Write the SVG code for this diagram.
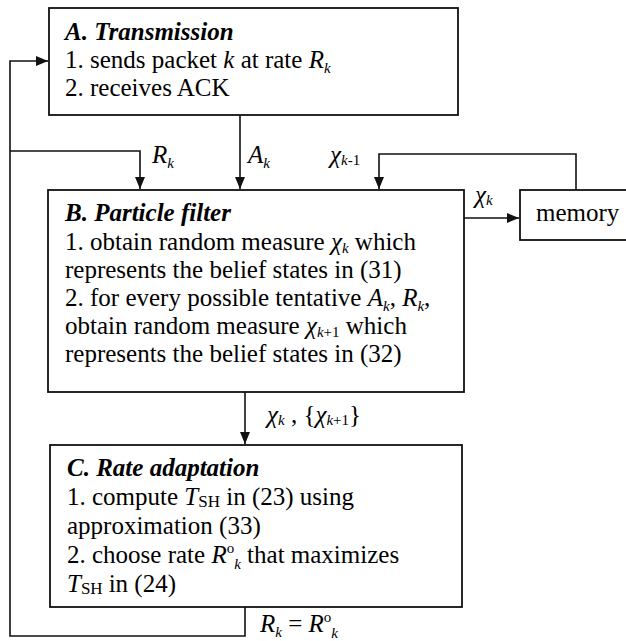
<svg xmlns="http://www.w3.org/2000/svg" width="626" height="641" viewBox="0 0 626 641">
  <style>
    .h { font-weight: bold; font-style: italic; }
    .i { font-style: italic; }
    .s { font-size: 15px; }
    .box { fill: #fff; stroke: #111; stroke-width: 1.8; }
    .wire { fill: none; stroke: #111; stroke-width: 1.6; }
  </style>
  <defs>
    <marker id="arrow" viewBox="0 0 12 10" refX="12" refY="5" markerWidth="12" markerHeight="10" markerUnits="userSpaceOnUse" orient="auto">
      <path d="M0,0 L12,5 L0,10 z" fill="#111"/>
    </marker>
  </defs>

  <g font-family="'Liberation Serif', 'Times New Roman', Times, serif" font-size="25" fill="#000">
  <g id="connectors">
    <!-- rate feedback from adaptation back to transmission -->
    <path class="wire" d="M245,607 V636 H10 V61 H48" marker-end="url(#arrow)"/>
    <path class="wire" d="M10,151 H140 V189" marker-end="url(#arrow)"/>
    <!-- ACK into the filter -->
    <path class="wire" d="M240,115 V189" marker-end="url(#arrow)"/>
    <!-- memory loop -->
    <path class="wire" d="M576,190 V154 H379 V189" marker-end="url(#arrow)"/>
    <path class="wire" d="M464,218 H519" marker-end="url(#arrow)"/>
    <!-- filter output to rate adaptation -->
    <path class="wire" d="M245,392 V444" marker-end="url(#arrow)"/>

    <text x="152" y="163"><tspan class="i">R</tspan><tspan class="s i" dy="5">k</tspan></text>
    <text x="248" y="163"><tspan class="i">A</tspan><tspan class="s i" dy="5">k</tspan></text>
    <text x="330" y="163"><tspan class="i">χ</tspan><tspan class="s" dy="2"><tspan class="i">k</tspan>-1</tspan></text>
    <text x="475" y="203"><tspan class="i">χ</tspan><tspan class="s i" dy="2">k</tspan></text>
    <text x="267" y="423"><tspan class="i">χ</tspan><tspan class="s i" dy="2">k</tspan><tspan dy="-2"> , {</tspan><tspan class="i">χ</tspan><tspan class="s" dy="2"><tspan class="i">k</tspan>+1</tspan><tspan dy="-2">}</tspan></text>
    <text x="260" y="632"><tspan class="i">R</tspan><tspan class="s i" dy="5">k</tspan><tspan dy="-5"> = </tspan><tspan class="i">R</tspan><tspan class="s" dy="-10">o</tspan><tspan class="s i" dy="16">k</tspan></text>
  </g>

  <g id="transmission">
    <rect class="box" x="49" y="8" width="409" height="107"/>
    <text class="h" x="65" y="40">A. Transmission</text>
    <text x="65" y="68">1. sends packet <tspan class="i">k</tspan> at rate <tspan class="i">R</tspan><tspan class="s i" dy="5">k</tspan></text>
    <text x="65" y="96">2. receives ACK</text>
  </g>

  <g id="particle-filter">
    <rect class="box" x="48" y="190" width="416" height="202"/>
    <text class="h" x="65" y="221">B. Particle filter</text>
    <text x="65" y="250">1. obtain random measure <tspan class="i">χ</tspan><tspan class="s i" dy="3">k</tspan><tspan dy="-3"> which</tspan></text>
    <text x="65" y="278">represents the belief states in (31)</text>
    <text x="65" y="306">2. for every possible tentative <tspan class="i">A</tspan><tspan class="s i" dy="5">k</tspan><tspan dy="-5">, </tspan><tspan class="i">R</tspan><tspan class="s i" dy="5">k</tspan><tspan dy="-5">,</tspan></text>
    <text x="65" y="334">obtain random measure <tspan class="i">χ</tspan><tspan class="s" dy="3"><tspan class="i">k</tspan>+1</tspan><tspan dy="-3"> which</tspan></text>
    <text x="65" y="362">represents the belief states in (32)</text>
  </g>

  <g id="memory">
    <rect class="box" x="520" y="190" width="112" height="50"/>
    <text x="536" y="221">memory</text>
  </g>

  <g id="rate-adaptation">
    <rect class="box" x="50" y="445" width="412" height="162"/>
    <text class="h" x="67" y="476">C. Rate adaptation</text>
    <text x="67" y="505">1. compute <tspan class="i">T</tspan><tspan font-size="17" dy="2">SH</tspan><tspan dy="-2"> in (23) using</tspan></text>
    <text x="67" y="534">approximation (33)</text>
    <text x="67" y="563">2. choose rate <tspan class="i">R</tspan><tspan class="s" dy="-10">o</tspan><tspan class="s i" dy="16">k</tspan><tspan dy="-6"> that maximizes</tspan></text>
    <text x="67" y="592"><tspan class="i">T</tspan><tspan font-size="17" dy="2">SH</tspan><tspan dy="-2" dx="6">in (24)</tspan></text>
  </g>
  </g>
</svg>
